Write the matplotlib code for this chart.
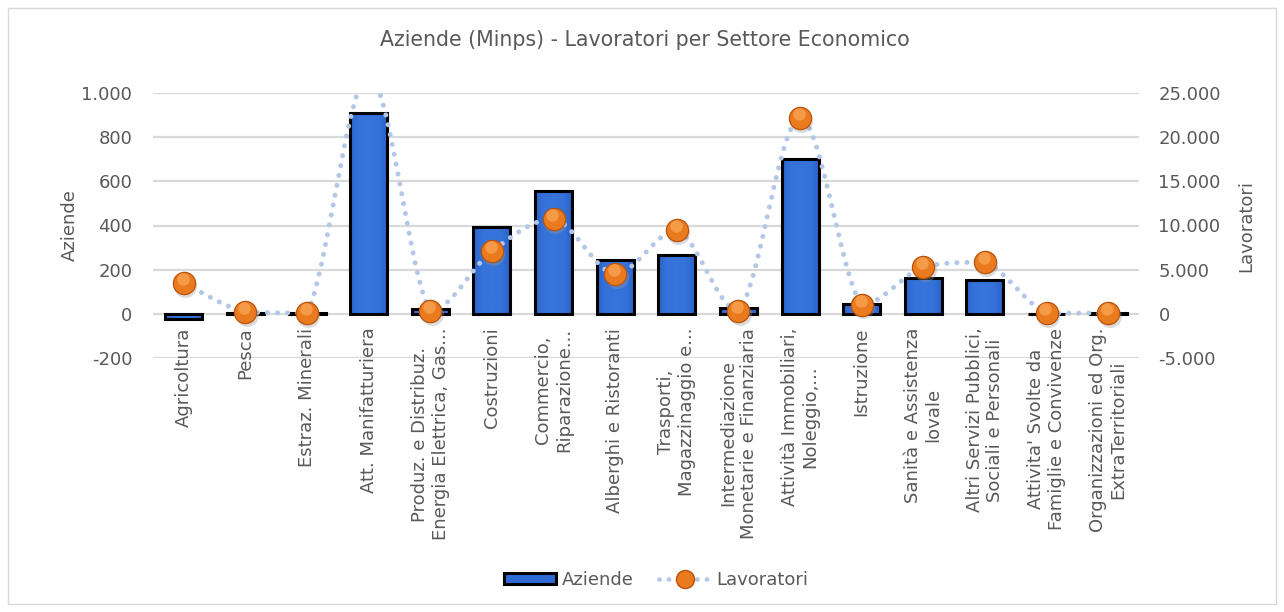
import numpy as np
import matplotlib
matplotlib.use("Agg")
import matplotlib.pyplot as plt
from matplotlib.patches import Rectangle, Patch
from matplotlib.lines import Line2D
from matplotlib.ticker import FuncFormatter
from matplotlib.colors import LinearSegmentedColormap
import matplotlib.transforms as mtransforms

categories = [
    "Agricoltura", "Pesca", "Estraz. Minerali", "Att. Manifatturiera",
    "Produz. e Distribuz.\nEnergia Elettrica, Gas...", "Costruzioni",
    "Commercio,\nRiparazione...", "Alberghi e Ristoranti",
    "Trasporti,\nMagazzinaggio e...", "Intermediazione\nMonetarie e Finanziaria",
    "Attività Immobiliari,\nNoleggio,...", "Istruzione",
    "Sanità e Assistenza\nlovale", "Altri Servizi Pubblici,\nSociali e Personali",
    "Attivita' Svolte da\nFamiglie e Convivenze", "Organizzazioni ed Org.\nExtraTerritoriali",
]
aziende = [-22, 3, 3, 910, 20, 392, 558, 246, 265, 25, 701, 45, 161, 151, 0, 4]
lavoratori = [3500, 180, 100, 27000, 350, 7080, 10750, 4525, 9460, 350, 22170, 1050, 5320, 5840, 80, 80]

left_ticks = [-200, 0, 200, 400, 600, 800, 1000]
right_ticks = [-5000, 0, 5000, 10000, 15000, 20000, 25000]

TXT = "#595959"
GRID = "#d9d9d9"
FS = 13
plt.rcParams["font.family"] = ["DejaVu Sans"]

W, H = 1284, 612
fig = plt.figure(figsize=(W / 100, H / 100), dpi=100)
fig.patch.set_facecolor("white")

# chart border
fig.patches.append(Rectangle((8 / W, 1 - 604 / H), 1268 / W, 596 / H,
                             transform=fig.transFigure, fill=False,
                             edgecolor=GRID, lw=1.0))

ax = fig.add_axes([153 / W, 1 - 358 / H, (1139 - 153) / W, (358 - 93) / H])
ax2 = ax.twinx()

x = np.arange(len(categories))

def it_fmt(v, pos):
    return f"{int(round(v)):,}".replace(",", ".")

ax.yaxis.set_major_formatter(FuncFormatter(it_fmt))
ax2.yaxis.set_major_formatter(FuncFormatter(it_fmt))
ax.set_xticks([])
for a in (ax, ax2):
    for s in a.spines.values():
        s.set_visible(False)
    a.tick_params(axis="y", length=0, labelsize=FS, labelcolor=TXT)
ax.tick_params(axis="y", pad=15)
ax2.tick_params(axis="y", pad=14)
ax.yaxis.grid(True, color=GRID, lw=1.6)
ax.set_axisbelow(True)

# bars with gradient fill
bw = 0.6
bars = ax.bar(x, aziende, width=bw, facecolor="none", edgecolor="black",
              linewidth=2.2, zorder=3)
cmap = LinearSegmentedColormap.from_list("b", ["#2152b0", "#2b63c9", "#3674db"])
hgrad = np.abs(np.linspace(-1, 1, 64)).reshape(1, -1)
for b, v in zip(bars, aziende):
    x0 = b.get_x()
    y0, y1 = (0, v) if v >= 0 else (v, 0)
    im = ax.imshow(1 - 0.6 * hgrad ** 3, extent=(x0, x0 + bw, y0, y1),
                   aspect="auto", cmap=cmap, vmin=0, vmax=1, zorder=2,
                   origin="lower", interpolation="bilinear")
    im.set_clip_path(b)

ax.set_xlim(-0.5, len(categories) - 0.5)
ax.set_ylim(left_ticks[0], left_ticks[-1])
ax2.set_ylim(right_ticks[0], right_ticks[-1])
ax.set_yticks(left_ticks)
ax2.set_yticks(right_ticks)

# smoothed line (Bezier, control points clamped to avoid overshoot)
def smooth(xs, ys, n=40):
    xs = np.asarray(xs, float); ys = np.asarray(ys, float)
    P = np.column_stack([xs, ys])
    out = []
    for i in range(len(P) - 1):
        p0 = P[i - 1] if i > 0 else P[i]
        p1, p2 = P[i], P[i + 1]
        p3 = P[i + 2] if i + 2 < len(P) else P[i + 1]
        c1 = p1 + (p2 - p0) / 6
        c2 = p2 - (p3 - p1) / 6
        lo, hi = min(p1[1], p2[1]), max(p1[1], p2[1])
        c1[1] = np.clip(c1[1], lo, hi)
        c2[1] = np.clip(c2[1], lo, hi)
        t = np.linspace(0, 1, n)[:, None]
        seg = ((1 - t) ** 3) * p1 + 3 * ((1 - t) ** 2) * t * c1 + 3 * (1 - t) * t ** 2 * c2 + t ** 3 * p2
        out.append(seg if i == 0 else seg[1:])
    a = np.vstack(out)
    return a[:, 0], a[:, 1]

sx, sy = smooth(x, lavoratori)
LINEC = "#b4c7e7"
ax2.plot(sx, sy, color=LINEC, lw=3.6, linestyle=(0, (0.01, 2.0)),
         dash_capstyle="round", zorder=4)
sh = mtransforms.offset_copy(ax2.transData, fig=fig, x=1.0, y=-2.0, units="points")
ax2.plot(x, lavoratori, linestyle="none", marker="o", markersize=16.5,
         markerfacecolor="#9a9a9a", markeredgecolor="none", alpha=0.35,
         transform=sh, zorder=4.5)
ax2.plot(x, lavoratori, linestyle="none", marker="o", markersize=16,
         markerfacecolor="#ea7a1e", markeredgecolor="#b9530c",
         markeredgewidth=0.9, zorder=5)
hl = mtransforms.offset_copy(ax2.transData, fig=fig, x=-0.8, y=2.8, units="points")
ax2.plot(x, lavoratori, linestyle="none", marker="o", markersize=9,
         markerfacecolor="#f9a556", markeredgecolor="none", alpha=0.75,
         transform=hl, zorder=6)

# category labels
for xi, lab in zip(x, categories):
    ax.annotate(lab, xy=(xi, 0), xycoords="data", xytext=(0, -10),
                textcoords="offset points", rotation=90, ha="center",
                va="top", multialignment="center", fontsize=FS, color=TXT,
                annotation_clip=False)

fig.text(645 / W, 1 - 40 / H, "Aziende (Minps) - Lavoratori per Settore Economico",
         ha="center", va="center", fontsize=14.8, color=TXT)
fig.text(70 / W, 1 - 225 / H, "Aziende", rotation=90, ha="center", va="center",
         fontsize=FS, color=TXT)
fig.text(1246 / W, 1 - 226 / H, "Lavoratori", rotation=90, ha="center",
         va="center", fontsize=FS, color=TXT)

handles = [
    Patch(facecolor="#2f6bd4", edgecolor="black", linewidth=2.2),
    Line2D([0], [0], color=LINEC, lw=3.4, linestyle=(0, (0.01, 2.0)),
           dash_capstyle="round", marker="o", markersize=13,
           markerfacecolor="#ea7a1e", markeredgecolor="#b9530c"),
]
fig.legend(handles, ["Aziende", "Lavoratori"], loc="center",
           bbox_to_anchor=(656 / W, 1 - 580 / H), ncol=2, frameon=False,
           fontsize=FS, labelcolor=TXT, handlelength=2.9, handleheight=0.6,
           handletextpad=0.3, columnspacing=1.4)

fig.savefig("out.png", dpi=100)
